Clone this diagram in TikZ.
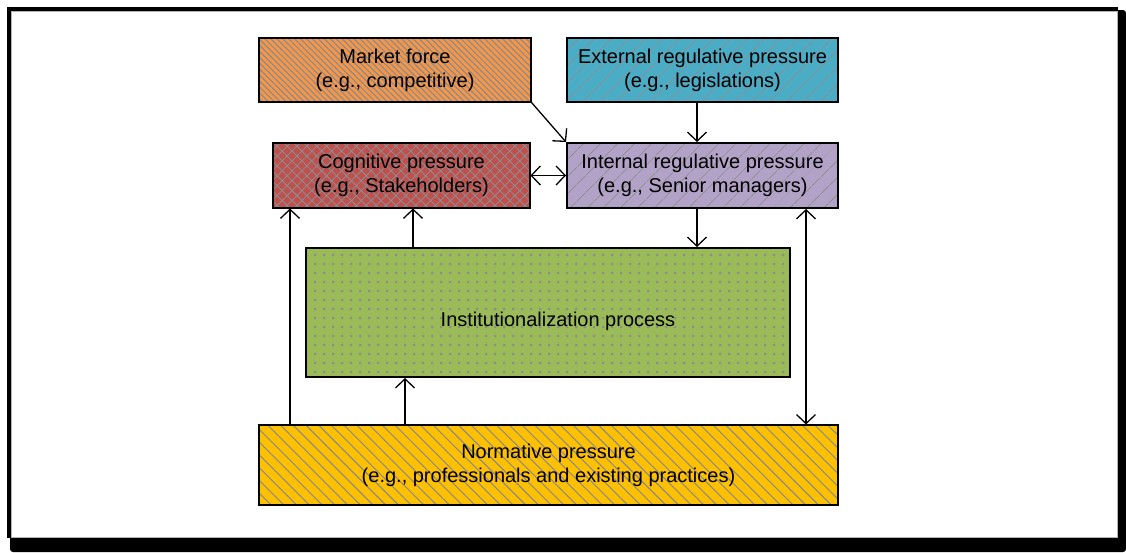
\documentclass[tikz,border=0pt]{standalone}
\usepackage{fontspec}
\setmainfont{Liberation Sans}
\usetikzlibrary{arrows.meta,patterns.meta}

\definecolor{mforange}{HTML}{F79646}
\definecolor{extteal}{HTML}{4BACC6}
\definecolor{cogred}{HTML}{C0504D}
\definecolor{intpurple}{HTML}{B3A2C7}
\definecolor{instgreen}{HTML}{9BBB59}
\definecolor{normgold}{HTML}{FFC000}
\definecolor{hatchgray}{HTML}{8C8C8C}

\tikzset{
  tip/.tip={Straight Barb[length=9pt,width=19pt,line width=1.3pt]},
  box/.style={draw=black, line width=2pt, inner sep=0pt, align=center,
    font=\fontsize{20}{24}\selectfont, pattern color=hatchgray},
  link/.style={line width=1.3pt, -tip},
  both/.style={line width=1.3pt, tip-tip},
}

\begin{document}
\begin{tikzpicture}[x=1pt,y=-1pt]
\useasboundingbox (0,0) rectangle (1126,552);

% page frame with its drop shadow
\fill[black, rounded corners=3pt] (10,10) rectangle (1126,552);
\fill[black] (7,7) rectangle (1118,538);
\fill[white, draw=gray!60, line width=0.5pt] (11,11) rectangle (1117,537);

% boxes
\node[box, minimum width=272pt, minimum height=64pt,
  preaction={fill=mforange}, pattern={Lines[angle=-45,distance=4.2pt,line width=1.2pt]}]
  (mf) at (395,70) {Market force\\(e.g., competitive)};

\node[box, minimum width=271pt, minimum height=64pt,
  preaction={fill=extteal}, pattern={Lines[angle=45,distance=13pt,line width=0.9pt]}]
  (ext) at (702.5,70) {External regulative pressure\\(e.g., legislations)};

\node[box, minimum width=257pt, minimum height=65pt,
  preaction={fill=cogred}, pattern={Hatch[angle=45,distance=7pt,line width=0.9pt]}]
  (cog) at (401.5,175.5) {Cognitive pressure\\(e.g., Stakeholders)};

\node[box, minimum width=271pt, minimum height=65pt,
  preaction={fill=intpurple}, pattern={Lines[angle=45,distance=13pt,line width=0.9pt]}]
  (irp) at (702.5,175.5) {Internal regulative pressure\\(e.g., Senior managers)};

\node[box, minimum width=484pt, minimum height=129pt,
  preaction={fill=instgreen}, pattern={Dots[distance=9pt,radius=1.5pt]}]
  (inst) at (548,312.5) {};
\node[font=\fontsize{20}{24}\selectfont] (insttext) at (558,321) {Institutionalization process};

\node[box, minimum width=579pt, minimum height=80pt,
  preaction={fill=normgold}, pattern={Lines[angle=-45,distance=9pt,line width=1.1pt]}]
  (norm) at (548.5,465) {Normative pressure\\(e.g., professionals and existing practices)};

% connectors
\draw[link] (mf.south east) -- (irp.north west);
\draw[link] (ext.south -| 697,0) -- (irp.north -| 697,0);
\draw[both] (cog.east) -- (irp.west);
\draw[link] (irp.south -| 697,0) -- (inst.north -| 697,0);
\draw[link] (inst.north -| 413,0) -- (cog.south -| 413,0);
\draw[link] (norm.north -| 290,0) -- (cog.south -| 290,0);
\draw[link] (norm.north -| 405,0) -- (inst.south -| 405,0);
\draw[both] (irp.south -| 806,0) -- (norm.north -| 806,0);
\end{tikzpicture}
\end{document}
